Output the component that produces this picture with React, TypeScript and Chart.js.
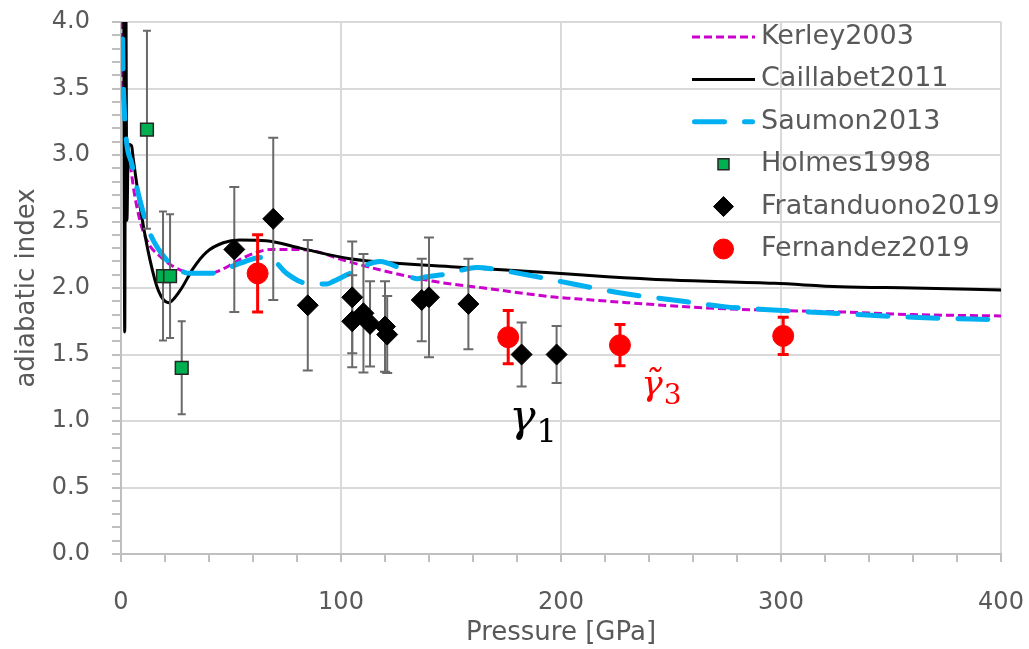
import React, { useEffect, useRef } from "react";
import { Chart, registerables } from "chart.js";

Chart.register(...registerables);

// ---- Model curves: adiabatic index vs pressure (GPa) ----
const kerleyP = [0.3, 0.8, 1.5, 2.5, 4, 6, 8, 10, 13, 17.7, 22, 27, 34, 40, 46, 51, 56, 62, 68, 75, 87, 101, 118, 142, 165, 195, 206, 230, 266, 300, 327, 360, 400];
const kerleyG = [5.0, 3.6, 3.3, 3.1, 2.95, 2.72, 2.55, 2.43, 2.32, 2.24, 2.18, 2.135, 2.11, 2.11, 2.14, 2.185, 2.23, 2.27, 2.29, 2.29, 2.28, 2.21, 2.135, 2.05, 2.0, 1.935, 1.92, 1.89, 1.85, 1.83, 1.82, 1.8, 1.79];

const caillabetP = [1.2, 1.7, 2.1, 2.7, 3.3, 4.8, 5.5, 7, 9.4, 13.2, 17, 21.5, 26.8, 32.9, 38.9, 46.5, 54, 66, 81.4, 104, 150, 195, 221, 250, 297, 327, 360, 400];
const caillabetG = [4.5, 1.67, 4.5, 2.51, 3.08, 3.07, 2.98, 2.8, 2.54, 2.21, 1.98, 1.89, 1.98, 2.15, 2.27, 2.34, 2.36, 2.355, 2.3, 2.22, 2.16, 2.115, 2.085, 2.06, 2.035, 2.01, 2.0, 1.985];

const saumonP = [0.3, 0.8, 1.5, 2.5, 4.8, 8.6, 13.2, 20.8, 25, 31.4, 40.5, 54, 63.2, 69.2, 75.3, 84.4, 93.5, 96.5, 104, 117.7, 125.3, 134.4, 139, 148, 161.7, 172, 184.4, 193.5, 205.6, 228, 251, 274, 296.5, 323.8, 360, 400];
const saumonG = [5.0, 3.8, 3.35, 3.1, 2.94, 2.66, 2.41, 2.21, 2.15, 2.11, 2.11, 2.185, 2.23, 2.21, 2.11, 2.035, 2.03, 2.05, 2.11, 2.2, 2.16, 2.07, 2.085, 2.105, 2.155, 2.135, 2.1, 2.07, 2.03, 1.96, 1.91, 1.86, 1.835, 1.81, 1.78, 1.76];

// ---- Measurements with symmetric uncertainties ----
const holmesP = [11.8, 19.1, 22.3, 27.6];
const holmesG = [3.19, 2.09, 2.09, 1.4];
const holmesErr = [0.745, 0.485, 0.465, 0.35];

const fratP = [51.5, 69.2, 84.9, 105.1, 105.1, 110.2, 113.2, 120, 121, 136.7, 140, 157.9, 182.1, 198];
const fratG = [2.29, 2.52, 1.87, 1.93, 1.75, 1.81, 1.73, 1.71, 1.65, 1.91, 1.93, 1.88, 1.5, 1.5];
const fratErr = [0.47, 0.61, 0.49, 0.42, 0.345, 0.445, 0.32, 0.34, 0.29, 0.31, 0.45, 0.34, 0.24, 0.215];

const fernP = [62.1, 176, 226.8, 301];
const fernG = [2.11, 1.63, 1.57, 1.64];
const fernErr = [0.29, 0.2, 0.155, 0.14];

// ---- Axis ticks ----
const xMajorTicks = [0, 100, 200, 300, 400];
const yMajorTicks = [0, 0.5, 1, 1.5, 2, 2.5, 3, 3.5, 4];

const TEXT = "#595959";
const FONT = '"DejaVu Sans"';

const pts = (xs: number[], ys: number[]) => xs.map((x, i) => ({ x, y: ys[i] }));
const isMajor = (v: number, list: number[]) => list.some((m) => Math.abs(m - v) < 1e-6);

// Fixed axis box sizes; tick labels may overhang into the layout padding
const fixAxis = (size: { width?: number; height?: number }) => (s: any) => {
  if (size.width !== undefined) s.width = size.width;
  if (size.height !== undefined) s.height = size.height;
  s.paddingTop = 0;
  s.paddingBottom = 0;
  s.paddingLeft = 0;
  s.paddingRight = 0;
};

// Vertical error bars drawn right before each measurement series' markers
const errorBarPlugin = {
  id: "errorBars",
  beforeDatasetDraw(chart: any, args: any) {
    const ds = chart.data.datasets[args.index];
    if (!ds.errors) return;
    const { ctx, scales } = chart;
    const xs = scales.x, ys = scales.y;
    ctx.save();
    ctx.strokeStyle = ds.errorColor;
    ctx.lineWidth = ds.errorWidth;
    const cap = ds.errorCap;
    ds.data.forEach((p: any, i: number) => {
      const e = ds.errors[i];
      const px = xs.getPixelForValue(p.x);
      const top = ys.getPixelForValue(p.y + e);
      const bot = ys.getPixelForValue(p.y - e);
      ctx.beginPath();
      ctx.moveTo(px, top);
      ctx.lineTo(px, bot);
      ctx.moveTo(px - cap, top);
      ctx.lineTo(px + cap, top);
      ctx.moveTo(px - cap, bot);
      ctx.lineTo(px + cap, bot);
      ctx.stroke();
    });
    ctx.restore();
  },
};

// Legend stacked inside the top-right corner of the plot
const cornerLegendPlugin = {
  id: "cornerLegend",
  afterDraw(chart: any) {
    const { ctx, chartArea } = chart;
    const x0 = chartArea.right - 309;
    const x1 = chartArea.right - 246;
    const mid = (x0 + x1) / 2;
    const tx = chartArea.right - 240;
    chart.data.datasets.forEach((ds: any, i: number) => {
      const yy = chartArea.top + 15 + i * 42.4;
      ctx.save();
      if (ds.showLine) {
        ctx.strokeStyle = ds.borderColor;
        ctx.lineWidth = ds.borderWidth;
        ctx.setLineDash(ds.borderDash || []);
        ctx.lineCap = ds.borderCapStyle || "butt";
        const inset = ds.borderCapStyle === "round" ? ds.borderWidth / 2 : 0;
        ctx.beginPath();
        ctx.moveTo(x0 + inset, yy);
        ctx.lineTo(x1 - inset, yy);
        ctx.stroke();
      } else {
        ctx.fillStyle = ds.backgroundColor;
        ctx.strokeStyle = ds.borderColor;
        ctx.lineWidth = ds.borderWidth;
        ctx.beginPath();
        if (ds.pointStyle === "rect") {
          ctx.rect(mid - 5.5, yy - 5.5, 11, 11);
        } else if (ds.pointStyle === "rectRot") {
          const r = 10;
          ctx.moveTo(mid, yy - r);
          ctx.lineTo(mid + r, yy);
          ctx.lineTo(mid, yy + r);
          ctx.lineTo(mid - r, yy);
          ctx.closePath();
        } else {
          ctx.arc(mid, yy, 10, 0, Math.PI * 2);
        }
        ctx.fill();
        ctx.stroke();
      }
      ctx.fillStyle = TEXT;
      ctx.font = `27px ${FONT}`;
      ctx.textAlign = "left";
      ctx.textBaseline = "middle";
      ctx.fillText(ds.label, tx, yy);
      ctx.restore();
    });
  },
};

// Symbol labels placed in data coordinates
const symbolLabels = [
  { base: "\u03B3", sub: "1", p: 176.5, g: 0.925, color: "#000000", size: 44, subSize: 32 },
  { base: "\u03B3\u0303", sub: "3", p: 236.5, g: 1.199, color: "#FF0000", size: 36, subSize: 28 },
];

const symbolPlugin = {
  id: "symbols",
  afterDatasetsDraw(chart: any) {
    const { ctx, scales } = chart;
    symbolLabels.forEach((s) => {
      const px = scales.x.getPixelForValue(s.p);
      const py = scales.y.getPixelForValue(s.g);
      ctx.save();
      ctx.fillStyle = s.color;
      ctx.textAlign = "left";
      ctx.textBaseline = "alphabetic";
      ctx.font = `italic ${s.size}px "DejaVu Serif"`;
      ctx.fillText(s.base, px, py);
      const w = ctx.measureText("\u03B3").width;
      ctx.font = `${s.subSize}px "DejaVu Serif"`;
      ctx.fillText(s.sub, px + w + 1, py + s.size * 0.25);
      ctx.restore();
    });
  },
};

export default function App() {
  const ref = useRef<HTMLCanvasElement>(null);

  useEffect(() => {
    if (!ref.current) return;
    const chart = new Chart(ref.current, {
      type: "scatter",
      data: {
        datasets: [
          {
            label: "Kerley2003",
            data: pts(kerleyP, kerleyG),
            showLine: true,
            borderColor: "#CC00CC",
            backgroundColor: "#CC00CC",
            borderWidth: 3,
            borderDash: [8, 4],
            pointRadius: 0,
            cubicInterpolationMode: "monotone",
            order: 6,
          } as any,
          {
            label: "Caillabet2011",
            data: pts(caillabetP, caillabetG),
            showLine: true,
            borderColor: "#000000",
            backgroundColor: "#000000",
            borderWidth: 3,
            pointRadius: 0,
            cubicInterpolationMode: "monotone",
            order: 5,
          },
          {
            label: "Saumon2013",
            data: pts(saumonP, saumonG),
            showLine: true,
            borderColor: "#00B0F0",
            backgroundColor: "#00B0F0",
            borderWidth: 5,
            borderDash: [30, 20],
            borderCapStyle: "round",
            pointRadius: 0,
            cubicInterpolationMode: "monotone",
            order: 4,
          },
          {
            label: "Holmes1998",
            data: pts(holmesP, holmesG),
            pointStyle: "rect",
            pointRadius: 9,
            backgroundColor: "#00B050",
            borderColor: "#262626",
            borderWidth: 1.5,
            errors: holmesErr,
            errorColor: "#6A6A6A",
            errorWidth: 2,
            errorCap: 4,
            order: 3,
          },
          {
            label: "Fratanduono2019",
            data: pts(fratP, fratG),
            pointStyle: "rectRot",
            pointRadius: 10.5,
            backgroundColor: "#000000",
            borderColor: "#000000",
            borderWidth: 1,
            errors: fratErr,
            errorColor: "#6A6A6A",
            errorWidth: 2,
            errorCap: 5,
            order: 2,
          },
          {
            label: "Fernandez2019",
            data: pts(fernP, fernG),
            pointStyle: "circle",
            pointRadius: 10.5,
            backgroundColor: "#FF0000",
            borderColor: "#FF0000",
            borderWidth: 1,
            errors: fernErr,
            errorColor: "#FF0000",
            errorWidth: 3,
            errorCap: 5.5,
            order: 1,
          },
        ] as any,
      },
      options: {
        responsive: false,
        animation: false,
        events: [],
        layout: { padding: { top: 22, right: 28, left: 0, bottom: 0 } },
        plugins: {
          legend: { display: false },
          tooltip: { enabled: false },
        },
        scales: {
          x: {
            type: "linear",
            min: 0,
            max: 400,
            afterFit: fixAxis({ height: 95 }),
            ticks: {
              stepSize: 20,
              autoSkip: false,
              maxRotation: 0,
              padding: 26,
              color: TEXT,
              font: { family: FONT, size: 24 },
              callback: (v: any) => (isMajor(Number(v), xMajorTicks) ? String(v) : ""),
            },
            grid: {
              color: (c: any) =>
                c.tick && isMajor(c.tick.value, xMajorTicks) ? "#D9D9D9" : "rgba(0,0,0,0)",
              lineWidth: 2,
              tickColor: "#BFBFBF",
              tickLength: 8,
              tickWidth: 2,
            },
            border: { color: "#BFBFBF", width: 2 },
            title: {
              display: true,
              text: "Pressure [GPa]",
              color: TEXT,
              font: { family: FONT, size: 26 },
              padding: { top: 0, bottom: 0 },
            },
          },
          y: {
            type: "linear",
            min: 0,
            max: 4,
            afterFit: fixAxis({ width: 121 }),
            ticks: {
              stepSize: 0.1,
              autoSkip: false,
              padding: 22,
              color: TEXT,
              font: { family: FONT, size: 24 },
              callback: (v: any) =>
                isMajor(Number(v), yMajorTicks) ? Number(v).toFixed(1) : "",
            },
            grid: {
              color: (c: any) =>
                c.tick && isMajor(c.tick.value, yMajorTicks) ? "#D9D9D9" : "rgba(0,0,0,0)",
              lineWidth: 2,
              tickColor: "#BFBFBF",
              tickLength: 9,
              tickWidth: 2,
            },
            border: { color: "#BFBFBF", width: 2 },
            title: {
              display: true,
              text: "adiabatic index",
              color: TEXT,
              font: { family: FONT, size: 26 },
              padding: { top: 12, bottom: 0 },
            },
          },
        },
      },
      plugins: [errorBarPlugin, symbolPlugin, cornerLegendPlugin],
    });
    return () => chart.destroy();
  }, []);

  return (
    <div style={{ position: "absolute", left: 0, top: 0, width: 1029, height: 649, background: "#fff" }}>
      <canvas ref={ref} width={1029} height={649} style={{ display: "block" }} />
    </div>
  );
}
